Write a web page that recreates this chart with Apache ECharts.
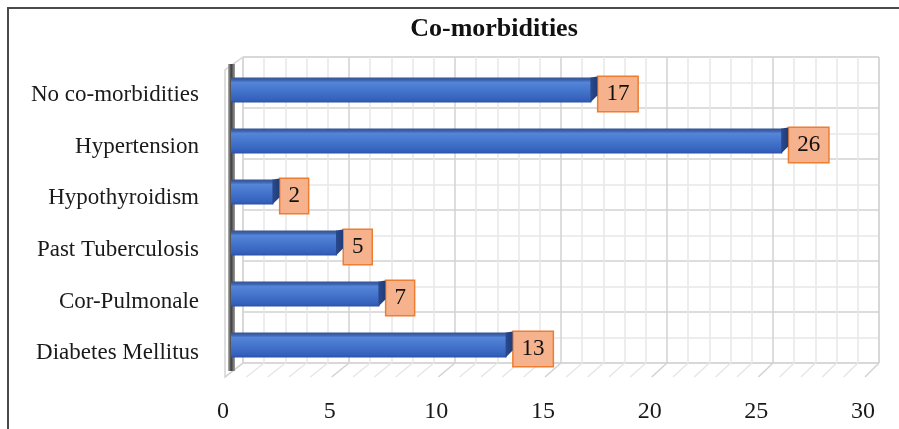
<!DOCTYPE html>
<html>
<head>
<meta charset="utf-8">
<script src="https://cdn.jsdelivr.net/npm/echarts@6/dist/echarts.min.js"></script>
<style>
  html, body { margin: 0; padding: 0; background: #fff; }
  #chart { width: 899px; height: 429px; }
</style>
</head>
<body>
<div id="chart"></div>
<script>
// Categories listed bottom-to-top, as the category axis draws them
const categories = ['Diabetes Mellitus', 'Cor-Pulmonale', 'Past Tuberculosis', 'Hypothyroidism', 'Hypertension', 'No co-morbidities'];
const counts = [13, 7, 5, 2, 26, 17];
const axisMin = 0;
const axisMax = 30;
const axisStep = 5;

const SERIF = '"Liberation Serif", "Times New Roman", serif';
const BAR_H = 25;

const barGradient = new echarts.graphic.LinearGradient(0, 0, 0, 1, [
  { offset: 0, color: '#35548f' },
  { offset: 0.1, color: '#3d62ad' },
  { offset: 0.2, color: '#5485d9' },
  { offset: 0.55, color: '#4473cb' },
  { offset: 0.9, color: '#3360bc' },
  { offset: 1, color: '#2c52a3' }
]);
const capGradient = new echarts.graphic.LinearGradient(0, 0, 1, 0, [
  { offset: 0, color: '#2a4a8e' },
  { offset: 1, color: '#203c78' }
]);

const chart = echarts.init(document.getElementById('chart'), null, { renderer: 'canvas' });

const option = {
  backgroundColor: '#ffffff',
  animation: false,
  title: {
    text: 'Co-morbidities',
    left: 489,
    top: 11,
    textAlign: 'center',
    textStyle: { fontFamily: SERIF, fontWeight: 'bold', fontSize: 26, color: '#111' }
  },
  grid: [
    // back wall
    { left: 243, top: 57, width: 636, height: 306, show: true, borderColor: '#d4d4d4', borderWidth: 1, backgroundColor: '#fff' },
    // bar plane
    { left: 231, top: 64.5, width: 636, height: 306 },
    // front edge carrying the axis labels
    { left: 223, top: 69, width: 640, height: 310 }
  ],
  xAxis: [
    {
      gridIndex: 0, type: 'value', min: axisMin, max: axisMax, interval: axisStep,
      axisLine: { show: false }, axisTick: { show: false }, axisLabel: { show: false },
      splitLine: { show: true, lineStyle: { color: '#d2d2d2', width: 1.5 } },
      minorTick: { show: false, splitNumber: 5 },
      minorSplitLine: { show: true, lineStyle: { color: '#e8e8e8', width: 1.5 } }
    },
    {
      gridIndex: 1, type: 'value', min: axisMin, max: axisMax, interval: axisStep, show: false
    },
    {
      gridIndex: 2, type: 'value', min: axisMin, max: axisMax, interval: axisStep,
      axisLine: { show: false }, axisTick: { show: false }, splitLine: { show: false },
      axisLabel: { margin: 21, fontFamily: SERIF, fontSize: 24, color: '#1a1a1a' }
    }
  ],
  yAxis: [
    {
      gridIndex: 0, type: 'value', min: 0, max: categories.length, interval: 1,
      axisLine: { show: false }, axisTick: { show: false }, axisLabel: { show: false },
      splitLine: { show: true, lineStyle: { color: '#d2d2d2', width: 1.5 } },
      minorTick: { show: false, splitNumber: 2 },
      minorSplitLine: { show: true, lineStyle: { color: '#e8e8e8', width: 1.5 } }
    },
    {
      gridIndex: 1, type: 'category', data: categories, show: false
    },
    {
      gridIndex: 2, type: 'category', data: categories,
      axisLine: { show: false }, axisTick: { show: false }, splitLine: { show: false },
      axisLabel: { margin: 24, fontFamily: SERIF, fontSize: 23, color: '#1a1a1a' }
    }
  ],
  series: [
    {
      type: 'bar',
      xAxisIndex: 1, yAxisIndex: 1,
      data: counts,
      barWidth: BAR_H,
      z: 3,
      itemStyle: { color: barGradient },
      label: {
        show: true,
        position: 'right',
        distance: 7,
        offset: [0, 4],
        fontFamily: SERIF,
        fontSize: 23,
        color: '#111',
        backgroundColor: '#f6b28c',
        borderColor: '#ed7d31',
        borderWidth: 1.5,
        padding: [6, 8, 5, 8]
      }
    },
    {
      // darker end face giving the bars their depth
      type: 'custom',
      xAxisIndex: 1, yAxisIndex: 1,
      z: 4,
      data: counts.map((v, i) => [v, i]),
      renderItem(params, api) {
        const p = api.coord([api.value(0), api.value(1)]);
        const top = p[1] - BAR_H / 2;
        const bot = p[1] + BAR_H / 2;
        return {
          type: 'polygon',
          shape: { points: [[p[0] - 1, top], [p[0] + 6, top - 1], [p[0] + 6, bot - 7], [p[0] - 1, bot]] },
          style: { fill: capGradient }
        };
      }
    }
  ]
};

chart.setOption(option);

// Floor hatch, left wall outline and shaded wall edge, placed through the axes
const px = (axisIdx, v) => chart.convertToPixel({ xAxisIndex: axisIdx }, v);
const py = (axisIdx, v) => chart.convertToPixel({ yAxisIndex: axisIdx }, v);
const floorBack = py(0, 0);
const wallTop = py(0, categories.length);
const frontBottom = floorBack + 14;
const frontTop = wallTop + 13;
const graphics = [];
for (let v = axisMin; v <= axisMax; v++) {
  const major = v % axisStep === 0;
  graphics.push({
    type: 'line', z: 1, silent: true,
    shape: { x1: px(2, v) + 2, y1: frontBottom, x2: px(0, v), y2: floorBack },
    style: { stroke: major ? '#d2d2d2' : '#e6e6e6', lineWidth: 1.5 }
  });
}
const fx = px(2, 0) + 2;
const bx = px(0, 0);
graphics.push(
  { type: 'polyline', z: 1, silent: true,
    shape: { points: [[bx, wallTop], [fx, frontTop], [fx, frontBottom], [bx, floorBack]] },
    style: { stroke: '#d4d4d4', lineWidth: 1.5, fill: null } },
  { type: 'rect', z: 2, silent: true,
    shape: { x: px(1, 0) - 3, y: frontTop - 6, width: 7, height: frontBottom - frontTop },
    style: { fill: new echarts.graphic.LinearGradient(0, 0, 1, 0, [
      { offset: 0, color: '#b5b5b5' },
      { offset: 0.45, color: '#3c3c3c' },
      { offset: 1, color: '#a0a0a0' }
    ]) } },
  // outer frame
  { type: 'rect', z: 10, silent: true,
    shape: { x: 8, y: 8, width: 1000, height: 1000 },
    style: { stroke: '#4a4a4a', lineWidth: 2, fill: null } }
);
chart.setOption({ graphic: graphics });
</script>
</body>
</html>
